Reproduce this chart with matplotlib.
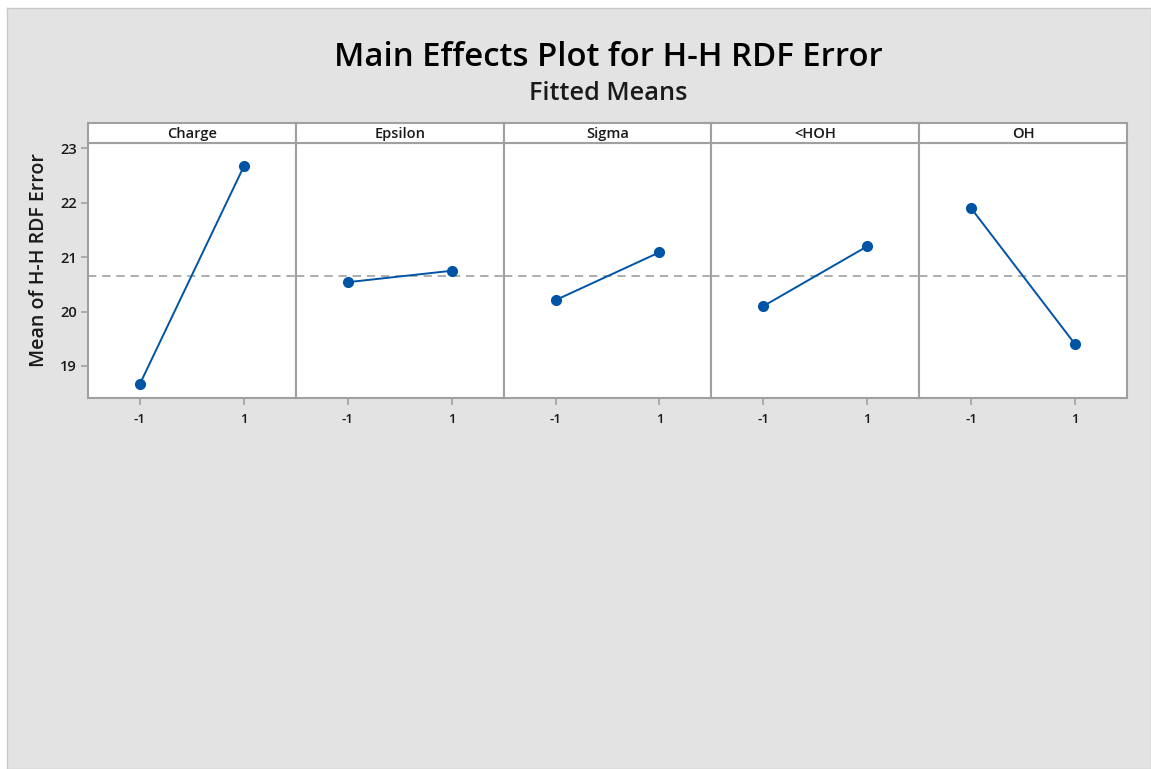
import matplotlib
matplotlib.use("Agg")
import matplotlib.pyplot as plt

plt.rcParams['font.family'] = ['Open Sans', 'DejaVu Sans']

factors = ["Charge", "Epsilon", "Sigma", "<HOH", "OH"]
levels = [-1, 1]
level_labels = ["-1", "1"]
means = {
    "Charge": [18.67, 22.67],
    "Epsilon": [20.54, 20.75],
    "Sigma": [20.21, 21.09],
    "<HOH": [20.10, 21.20],
    "OH": [21.90, 19.40],
}
overall_mean = 20.65
yticks = [19, 20, 21, 22, 23]

W, H = 1151, 769
fig = plt.figure(figsize=(W / 100, H / 100), dpi=100, facecolor="white")
bg = "#E3E3E3"
bgax = fig.add_axes([7 / W, 0, 1 - 7 / W, 1 - 8 / H], zorder=-10)
bgax.set_facecolor(bg)
bgax.set_xticks([])
bgax.set_yticks([])
for s in bgax.spines.values():
    s.set_color("#C8C8C8")
    s.set_linewidth(1)

left, right = 88, 1127
top_strip, strip_bot, bottom = 123, 143, 398
pw = (right - left) / len(factors)
line_col = "#0054A6"
frame_col = "#A0A0A0"
txt_col = "#1A1A1A"

for i, f in enumerate(factors):
    x0 = left + i * pw
    ax = fig.add_axes([x0 / W, 1 - bottom / H, pw / W, (bottom - strip_bot) / H])
    ax.set_facecolor("white")
    ax.axhline(overall_mean, color="#A0A0A0", linestyle=(0, (5, 3.5)), linewidth=1.2, zorder=1)
    ax.plot(levels, means[f], color=line_col, linewidth=1.4, marker="o", markersize=7, zorder=3)
    ax.set_xlim(-2, 2)
    ax.set_ylim(18.41, 23.1)
    ax.set_xticks(levels)
    ax.set_xticklabels(level_labels, fontsize=9.5, fontweight="semibold", color=txt_col)
    for s in ax.spines.values():
        s.set_color(frame_col)
        s.set_linewidth(1.5)
    ax.tick_params(axis="x", direction="out", length=5, color=frame_col, width=1.2, pad=6)
    if i == 0:
        ax.set_yticks(yticks)
        ax.set_yticklabels([str(v) for v in yticks], fontsize=10.5, fontweight="semibold",
                           color=txt_col)
        ax.tick_params(axis="y", direction="out", length=5, color=frame_col, width=1.2, pad=3)
        ax.set_ylabel("Mean of H-H RDF Error", fontsize=14, fontweight="semibold",
                      color=txt_col)
        ax.yaxis.set_label_coords(-0.19, 0.541)
    else:
        ax.set_yticks([])
    # strip
    sax = fig.add_axes([x0 / W, 1 - strip_bot / H, pw / W, (strip_bot - top_strip) / H])
    sax.set_facecolor("white")
    sax.set_xticks([])
    sax.set_yticks([])
    for s in sax.spines.values():
        s.set_color(frame_col)
        s.set_linewidth(1.5)
    sax.text(0.5, 0.45, f, ha="center", va="center", fontsize=10.5, fontweight="semibold",
             color=txt_col, transform=sax.transAxes)

fig.text(608 / W, 1 - 57 / H, "Main Effects Plot for H-H RDF Error", ha="center", va="center",
         fontsize=23.7, fontweight="semibold", color="#000000")
fig.text(608 / W, 1 - 94 / H, "Fitted Means", ha="center", va="center", fontsize=18.2,
         fontweight="semibold", color=txt_col)

fig.savefig("out.png", dpi=100, facecolor="white")
